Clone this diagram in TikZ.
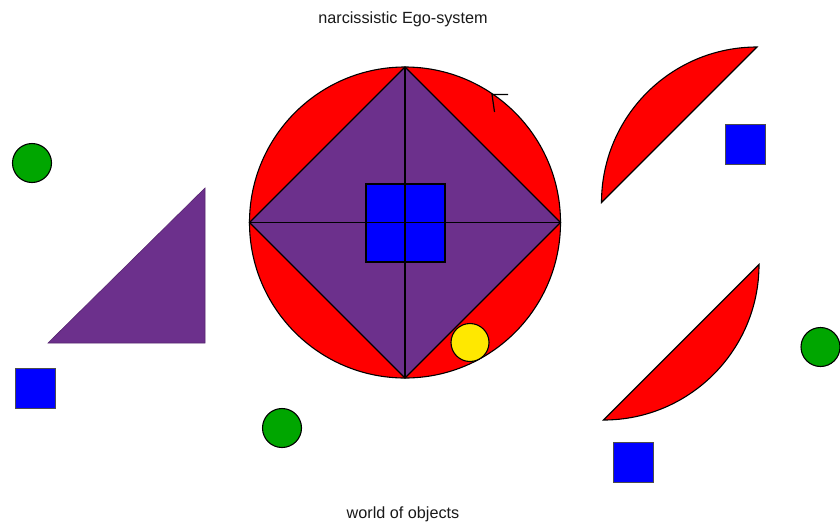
\documentclass[tikz,border=0pt]{standalone}
\usepackage{fontspec}
\setmainfont{Liberation Sans}
\definecolor{egored}{RGB}{255,0,0}
\definecolor{egopurple}{RGB}{108,48,140}
\definecolor{egoblue}{RGB}{0,0,255}
\definecolor{egogreen}{RGB}{0,166,0}
\definecolor{egoyellow}{RGB}{255,232,0}
\begin{document}
\begin{tikzpicture}[x=1pt,y=-1pt,
  outline/.style={draw=black,line width=1.1pt},
  redseg/.style={outline,fill=egored},
  purpleshape/.style={outline,fill=egopurple},
  bluesq/.style={draw=black!70,line width=1pt,fill=egoblue},
  greendot/.style={outline,fill=egogreen},
  label/.style={font=\fontsize{16.2}{19}\selectfont,text=black!90,inner sep=0pt}]
\useasboundingbox (0,0) rectangle (840,523);
\fill[white] (0,0) rectangle (840,523);
% titles
\node[label] (title) at (403,19) {narcissistic Ego-system};
\node[label] (world) at (403,514.5) {world of objects};
% main circle
\coordinate (C) at (405,222.5);
\fill[egored] (C) circle[radius=155.5];
\draw[purpleshape] (405,67) -- (560.5,222.5) -- (405,378) -- (249.5,222.5) -- cycle;
\draw[outline] (C) circle[radius=155.5];
\draw[outline,fill=egoblue] (366,184) rectangle (445,262);
\draw[outline] (405,67) -- (405,378);
\draw[outline] (249.5,222.5) -- (560.5,222.5);
% yellow circle
\draw[outline,fill=egoyellow] (470,342.5) circle[radius=19];
% small mark on circle
\draw[line width=1.2pt,black] (508,94.5) -- (492,94.5) -- (494.5,112);
% detached red segments
\draw[redseg] (601.5,202.5) arc[start angle=180,end angle=270,radius=155.5] -- cycle;
\draw[redseg] (759,264.5) arc[start angle=0,end angle=90,radius=155.5] -- cycle;
% purple triangle
\draw[draw=egopurple!80!black,line width=0.6pt,fill=egopurple] (48,343) -- (205,188) -- (205,343) -- cycle;
% green circles
\draw[greendot] (32,163) circle[radius=19.5];
\draw[greendot] (282,428) circle[radius=19.5];
\draw[greendot] (820.5,347) circle[radius=19.5];
% blue squares
\draw[bluesq] (15,368) rectangle (55,408);
\draw[bluesq] (725,124) rectangle (765,164);
\draw[bluesq] (613,442) rectangle (653,482);
\end{tikzpicture}
\end{document}
